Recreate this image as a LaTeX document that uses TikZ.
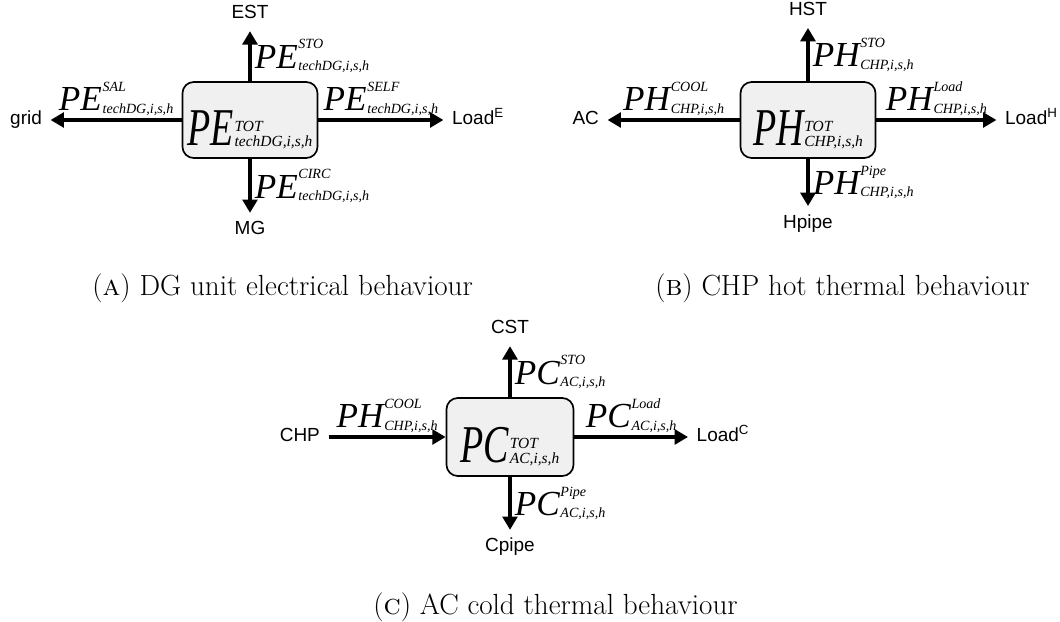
\documentclass[tikz,border=0pt]{standalone}
\usepackage{fontspec}
\usepackage{graphicx}
\usepackage{tikz}
\usetikzlibrary{arrows.meta, positioning}

\newfontfamily\timesit{Liberation Serif}
\newfontfamily\arialfont{Liberation Sans}

% flow variable next to an arrow
\newcommand{\fvar}[3]{{\fontsize{25}{25}\selectfont #1}\kern0.5pt{\fontsize{10}{10}\selectfont\rlap{\raisebox{14pt}{#2}}\raisebox{-1.5pt}{#3}}}
% total variable inside a unit box
\newcommand{\tvar}[3]{\scalebox{1}[1.4]{\fontsize{27}{27}\selectfont #1}\kern0.5pt{\fontsize{11}{11}\selectfont\rlap{\raisebox{9.5pt}{#2}}\raisebox{-1pt}{#3}}}

\begin{document}
\begin{tikzpicture}[
        x=0.025cm, y=-0.025cm,
        unit/.style={rectangle, draw, line width=1.2pt, rounded corners=8pt, fill=black!6, minimum width=3.375cm, minimum height=1.9cm, inner sep=2pt, font=\timesit\itshape, text height=36pt, text depth=0pt},
        lbl/.style={font={\arialfont\fontsize{13.5}{16}\selectfont}, inner sep=6pt, text height=9.5pt, text depth=2.7pt},
        fl/.style={font=\timesit\itshape, inner sep=2pt},
        flow/.style={-{Triangle[length=9.5pt, width=10.5pt]}, line width=2.8pt},
        subcap/.style={font={\fontsize{20.7}{24}\selectfont}, anchor=base west, inner sep=0pt}
    ]
    \useasboundingbox (0,0) rectangle (1060,621);

    % Units
    \node[unit] (dgbox) at (250,120) {\tvar{PE}{TOT}{techDG,i,s,h}};
    \node[unit] (chpbox) at (808,120) {\tvar{PH}{TOT}{CHP,i,s,h}};
    \node[unit, minimum width=3.175cm, minimum height=1.95cm] (acbox) at (510,437) {\tvar{PC}{TOT}{AC,i,s,h}};

    % DG unit ends
    \node[lbl, above=1.25cm of dgbox] (est) {EST};
    \node[lbl, below=1.35cm of dgbox] (mg) {MG};
    \node[lbl, left=3.275cm of dgbox] (grid) {grid};
    \node[lbl, right=3.125cm of dgbox] (loadE) {Load\textsuperscript{E}};

    % CHP ends
    \node[lbl, above=1.33cm of chpbox] (hst) {HST};
    \node[lbl, below=1.18cm of chpbox] (hpipe) {Hpipe};
    \node[lbl, left=3.3cm of chpbox] (acout) {AC};
    \node[lbl, right=3.0cm of chpbox] (loadH) {Load\textsuperscript{H}};

    % AC ends
    \node[lbl, above=1.275cm of acbox] (cst) {CST};
    \node[lbl, below=1.325cm of acbox] (cpipe) {Cpipe};
    \node[lbl, left=2.925cm of acbox] (chpin) {CHP};
    \node[lbl, right=2.84cm of acbox] (loadC) {Load\textsuperscript{C}};

    % Flows (DG)
    \draw[flow] (dgbox) -- node[fl, right] {\fvar{PE}{STO}{techDG,i,s,h}} (est);
    \draw[flow] (dgbox) -- node[fl, right] {\fvar{PE}{CIRC}{techDG,i,s,h}} (mg);
    \draw[flow] (dgbox) -- node[fl, above] {\fvar{PE}{SAL}{techDG,i,s,h}} (grid);
    \draw[flow] (dgbox) -- node[fl, above] {\fvar{PE}{SELF}{techDG,i,s,h}} (loadE);

    % Flows (CHP)
    \draw[flow] (chpbox) -- node[fl, right] {\fvar{PH}{STO}{CHP,i,s,h}} (hst);
    \draw[flow] (chpbox) -- node[fl, right] {\fvar{PH}{Pipe}{CHP,i,s,h}} (hpipe);
    \draw[flow] (chpbox) -- node[fl, above] {\fvar{PH}{COOL}{CHP,i,s,h}} (acout);
    \draw[flow] (chpbox) -- node[fl, above] {\fvar{PH}{Load}{CHP,i,s,h}} (loadH);

    % Flows (AC)
    \draw[flow] (acbox) -- node[fl, right] {\fvar{PC}{STO}{AC,i,s,h}} (cst);
    \draw[flow] (acbox) -- node[fl, right] {\fvar{PC}{Pipe}{AC,i,s,h}} (cpipe);
    \draw[flow] (chpin) -- node[fl, above] {\fvar{PH}{COOL}{CHP,i,s,h}} (acbox);
    \draw[flow] (acbox) -- node[fl, above] {\fvar{PC}{Load}{AC,i,s,h}} (loadC);

    % Captions
    \node[subcap] (capa) at (92,295) {(\textsc{a}) DG unit electrical behaviour};
    \node[subcap] (capb) at (655,295) {(\textsc{b}) CHP hot thermal behaviour};
    \node[subcap] (capc) at (373,614) {(\textsc{c}) AC cold thermal behaviour};

\end{tikzpicture}
\end{document}
